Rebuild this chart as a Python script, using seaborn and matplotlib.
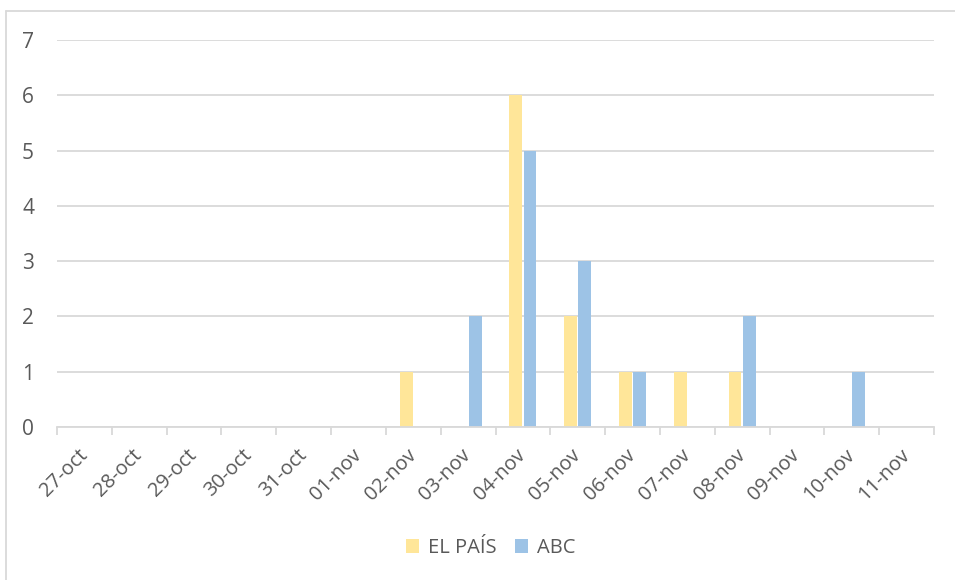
import matplotlib
matplotlib.use('Agg')
import matplotlib.pyplot as plt
from matplotlib.lines import Line2D
from matplotlib.patches import Patch
import seaborn as sns
import pandas as pd
import numpy as np

# datos
fechas = ['27-oct', '28-oct', '29-oct', '30-oct', '31-oct', '01-nov', '02-nov', '03-nov',
          '04-nov', '05-nov', '06-nov', '07-nov', '08-nov', '09-nov', '10-nov', '11-nov']
el_pais = [0, 0, 0, 0, 0, 0, 1, 0, 6, 2, 1, 1, 1, 0, 0, 0]
abc = [0, 0, 0, 0, 0, 0, 0, 2, 5, 3, 1, 0, 2, 0, 1, 0]

df = pd.DataFrame({'Fecha': fechas * 2,
                   'Valor': el_pais + abc,
                   'Medio': ['EL PAÍS'] * len(fechas) + ['ABC'] * len(fechas)})

sns.set_theme(style='white')
plt.rcParams['font.family'] = ['Open Sans', 'DejaVu Sans']

texto = '#595959'
rejilla = '#D9D9D9'
colores = {'EL PAÍS': '#FFE699', 'ABC': '#9DC3E6'}

fig = plt.figure(figsize=(9.55, 5.8), dpi=100)
ax = fig.add_axes([57 / 955, 1 - 427 / 580, (934 - 57) / 955, (427 - 40) / 580])

sns.barplot(data=df, x='Fecha', y='Valor', hue='Medio', palette=colores, saturation=1,
            width=0.52, gap=0.1, linewidth=0, legend=False, ax=ax)

ax.set_xlim(-0.5, len(fechas) - 0.5)
ax.set_ylim(0, 7)
ax.set_yticks(range(8))
ax.yaxis.grid(True, color=rejilla, linewidth=1.3)
ax.set_axisbelow(True)
for s in ['top', 'right', 'left']:
    ax.spines[s].set_visible(False)
ax.spines['bottom'].set_color(rejilla)
ax.spines['bottom'].set_linewidth(1.3)

ax.set_xlabel('')
ax.set_ylabel('')
ax.set_xticks(np.arange(len(fechas)))
ax.set_xticklabels(fechas, rotation=45, ha='right', va='center', rotation_mode='anchor')
ax.set_xticks(np.arange(len(fechas) + 1) - 0.5, minor=True)
ax.tick_params(axis='x', which='major', bottom=False, length=0, pad=18, labelsize=14.5, labelcolor=texto)
ax.tick_params(axis='x', which='minor', bottom=True, length=6, width=1.3, color=rejilla, direction='out')
ax.tick_params(axis='y', length=0, pad=16.5, labelsize=15, labelcolor=texto)

handles = [Patch(facecolor=colores[m], edgecolor='none') for m in ['EL PAÍS', 'ABC']]
fig.legend(handles, ['EL PAÍS', 'ABC'], loc='center', bbox_to_anchor=(491 / 955, 1 - 548 / 580),
           ncol=2, frameon=False, fontsize=14.5, labelcolor=texto,
           handlelength=0.65, handleheight=0.65, handletextpad=0.45, columnspacing=0.9)

# borde del gráfico
fig.add_artist(Line2D([6 / 955, 6 / 955], [0, 1 - 11 / 580], color=rejilla, linewidth=1.3))
fig.add_artist(Line2D([6 / 955, 1], [1 - 11 / 580, 1 - 11 / 580], color=rejilla, linewidth=1.3))

fig.savefig('out.png', dpi=100)
